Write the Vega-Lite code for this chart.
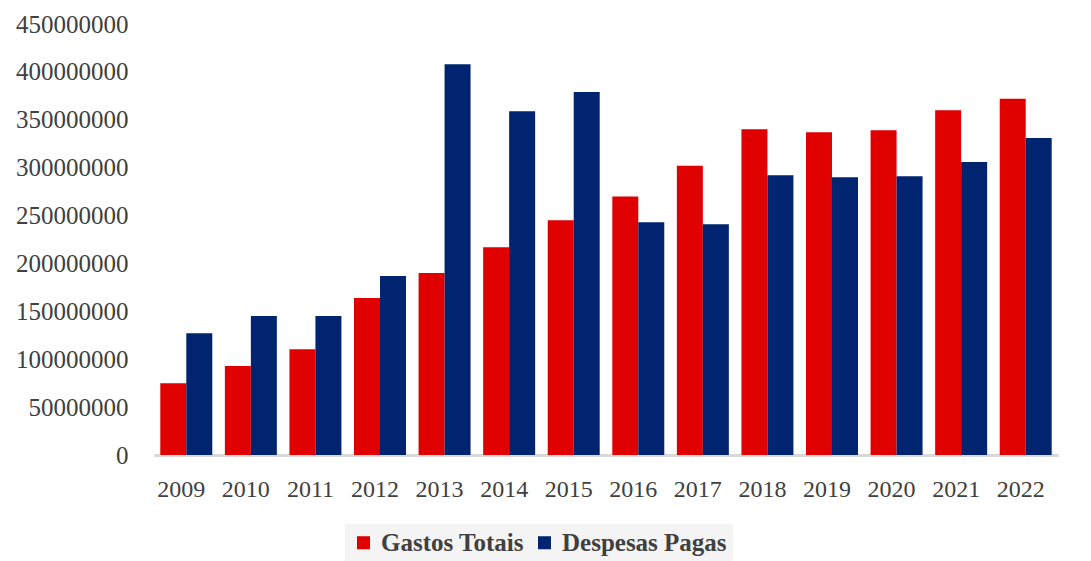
{
  "$schema": "https://vega.github.io/schema/vega-lite/v6.json",
  "width": 904,
  "height": 431,
  "autosize": "none",
  "padding": {"left": 154, "top": 24, "right": 33, "bottom": 106},
  "background": "white",
  "data": {
    "values": [
      {"year": "2009", "serie": "Gastos Totais", "valor": 75000000},
      {"year": "2009", "serie": "Despesas Pagas", "valor": 127000000},
      {"year": "2010", "serie": "Gastos Totais", "valor": 93000000},
      {"year": "2010", "serie": "Despesas Pagas", "valor": 145000000},
      {"year": "2011", "serie": "Gastos Totais", "valor": 110500000},
      {"year": "2011", "serie": "Despesas Pagas", "valor": 145000000},
      {"year": "2012", "serie": "Gastos Totais", "valor": 164000000},
      {"year": "2012", "serie": "Despesas Pagas", "valor": 187000000},
      {"year": "2013", "serie": "Gastos Totais", "valor": 190000000},
      {"year": "2013", "serie": "Despesas Pagas", "valor": 408000000},
      {"year": "2014", "serie": "Gastos Totais", "valor": 217000000},
      {"year": "2014", "serie": "Despesas Pagas", "valor": 359000000},
      {"year": "2015", "serie": "Gastos Totais", "valor": 245000000},
      {"year": "2015", "serie": "Despesas Pagas", "valor": 379000000},
      {"year": "2016", "serie": "Gastos Totais", "valor": 270000000},
      {"year": "2016", "serie": "Despesas Pagas", "valor": 243000000},
      {"year": "2017", "serie": "Gastos Totais", "valor": 302000000},
      {"year": "2017", "serie": "Despesas Pagas", "valor": 241000000},
      {"year": "2018", "serie": "Gastos Totais", "valor": 340000000},
      {"year": "2018", "serie": "Despesas Pagas", "valor": 292000000},
      {"year": "2019", "serie": "Gastos Totais", "valor": 337000000},
      {"year": "2019", "serie": "Despesas Pagas", "valor": 290000000},
      {"year": "2020", "serie": "Gastos Totais", "valor": 339000000},
      {"year": "2020", "serie": "Despesas Pagas", "valor": 291000000},
      {"year": "2021", "serie": "Gastos Totais", "valor": 360000000},
      {"year": "2021", "serie": "Despesas Pagas", "valor": 306000000},
      {"year": "2022", "serie": "Gastos Totais", "valor": 372000000},
      {"year": "2022", "serie": "Despesas Pagas", "valor": 331000000}
    ]
  },
  "mark": {"type": "bar"},
  "encoding": {
    "x": {
      "field": "year",
      "type": "ordinal",
      "title": null,
      "scale": {"paddingInner": 0.195, "paddingOuter": 0.0975},
      "axis": {
        "labelAngle": 0,
        "labelFont": "Liberation Serif",
        "labelFontSize": 24,
        "labelColor": "#404040",
        "labelPadding": 22,
        "labelOffset": -5,
        "ticks": false,
        "domainColor": "#d9d9d9",
        "domainWidth": 3
      }
    },
    "xOffset": {
      "field": "serie",
      "type": "nominal",
      "sort": ["Gastos Totais", "Despesas Pagas"],
      "scale": {"paddingInner": 0, "paddingOuter": 0}
    },
    "y": {
      "field": "valor",
      "type": "quantitative",
      "title": null,
      "scale": {"domain": [0, 450000000], "nice": false},
      "axis": {
        "values": [0, 50000000, 100000000, 150000000, 200000000, 250000000, 300000000, 350000000, 400000000, 450000000],
        "format": "d",
        "grid": false,
        "domain": false,
        "ticks": false,
        "labelFont": "Liberation Serif",
        "labelFontSize": 25,
        "labelColor": "#404040",
        "labelPadding": 26
      }
    },
    "color": {
      "field": "serie",
      "type": "nominal",
      "sort": ["Gastos Totais", "Despesas Pagas"],
      "scale": {"domain": ["Gastos Totais", "Despesas Pagas"], "range": ["#e00000", "#002470"]},
      "legend": {
        "title": null,
        "orient": "none",
        "direction": "horizontal",
        "legendX": 191,
        "legendY": 500,
        "labelFont": "Liberation Serif",
        "labelFontSize": 25,
        "labelFontWeight": "bold",
        "labelColor": "#404040",
        "labelOffset": 5,
        "labelLimit": 400,
        "symbolType": "square",
        "symbolSize": 170,
        "symbolStrokeWidth": 0,
        "columnPadding": 8,
        "fillColor": "#f4f4f4",
        "padding": 6
      }
    }
  },
  "config": {"view": {"stroke": null}}
}
